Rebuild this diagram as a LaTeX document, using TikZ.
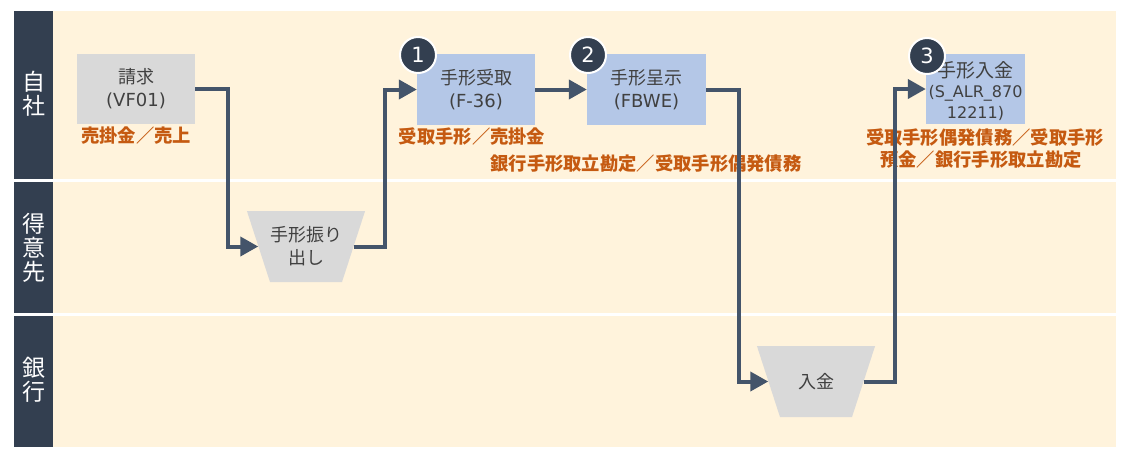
\documentclass[tikz,border=0pt]{standalone}
\usepackage{fontspec}
\setmainfont{Noto Sans CJK JP}
\newfontfamily\lat{DejaVu Sans}
\usetikzlibrary{arrows.meta,shapes.geometric}
\definecolor{navy}{HTML}{333F50}
\definecolor{lanebg}{HTML}{FFF3DC}
\definecolor{grayfill}{HTML}{D9D9D9}
\definecolor{bluefill}{HTML}{B4C7E7}
\definecolor{conncol}{HTML}{44546A}
\definecolor{orangetxt}{HTML}{C55A11}
\definecolor{boxtxt}{HTML}{404040}
\tikzset{
  lanelabel/.style={text=white, align=center, font=\fontsize{23}{24}\selectfont, inner sep=0pt},
  procbox/.style={rectangle, inner sep=0pt, align=center, text=boxtxt, font=\fontsize{18}{23}\selectfont},
  graybox/.style={procbox, fill=grayfill},
  bluebox/.style={procbox, fill=bluefill},
  trap/.style={trapezium, trapezium left angle=108, trapezium right angle=108,
    minimum height=0pt, minimum width=0pt, text height=0pt, text depth=0pt, text width=0pt,
    inner xsep=36pt, inner ysep=35.5pt, fill=grayfill},
  traptext/.style={procbox},
  numcirc/.style={circle, fill=navy, draw=white, line width=2pt, minimum size=36pt, inner sep=0pt,
    text=white, font=\lat\fontsize{21}{21}\selectfont},
  acct/.style={text=orangetxt, font=\fontsize{18.3}{22}\selectfont\bfseries, inner sep=0pt, align=center},
  conn/.style={draw=conncol, line width=4pt, -{Triangle[length=18pt,width=19pt]}}
}
\begin{document}
\begin{tikzpicture}[x=1pt,y=-1pt]
\useasboundingbox[fill=white] (0,0) rectangle (1126,456);
% lanes
\fill[lanebg] (53,11) rectangle (1116,179);
\fill[lanebg] (53,182) rectangle (1116,313);
\fill[lanebg] (53,316) rectangle (1116,447);
\fill[navy] (14,11) rectangle (53,179);
\fill[navy] (14,182) rectangle (53,313);
\fill[navy] (14,316) rectangle (53,447);
\node[lanelabel] (l1) at (33.5,94) {自\\社};
\node[lanelabel] (l2) at (33.5,248) {得\\意\\先};
\node[lanelabel] (l3) at (33.5,380) {銀\\行};
% process nodes
\node[graybox, minimum width=118pt, minimum height=70pt] (seikyu) at (136,89) {請求\\{\lat (VF01)}};
\node[trap] (furi) at (306,246.5) {};
\node[traptext] (furit) at (furi.center) {手形振り\\出し};
\node[bluebox, minimum width=118pt, minimum height=71pt] (uketori) at (476,89.5) {手形受取\\{\lat (F-36)}};
\node[bluebox, minimum width=119pt, minimum height=71pt] (teiji) at (646.5,89.5) {手形呈示\\{\lat (FBWE)}};
\node[trap] (nyukin) at (816,381.5) {};
\node[traptext] (nyukint) at (nyukin.center) {入金};
\node[bluebox, minimum width=99pt, minimum height=70pt, font=\fontsize{19}{20.5}\selectfont] (tnyukin) at (975.5,89) {};
\node[procbox, font=\fontsize{19}{20.5}\selectfont] (tnyukint) at (975.5,91) {手形入金\\{\lat\fontsize{16}{20.5}\selectfont (S\_ALR\_870}\\{\lat\fontsize{16}{20.5}\selectfont 12211)}};
% number circles
\node[numcirc] (n1) at (418,55) {1};
\node[numcirc] (n2) at (588,55) {2};
\node[numcirc] (n3) at (927,56) {3};
% account labels
\node[acct] (a1) at (136,136) {売掛金／売上};
\node[acct] (a2) at (472,137) {受取手形／売掛金};
\node[acct] (a3) at (646,164) {銀行手形取立勘定／受取手形偶発債務};
\node[acct] (a4) at (985,137.5) {受取手形偶発債務／受取手形};
\node[acct] (a5) at (981,160) {預金／銀行手形取立勘定};
% connectors
\draw[conn] (seikyu.east) -- ++(33,0) |- (furi.west);
\draw[conn] (furi.east) -- ++(31,0) |- (uketori.west);
\draw[conn] (uketori.east) -- (teiji.west);
\draw[conn] (teiji.east) -- ++(33,0) |- (nyukin.west);
\draw[conn] (nyukin.east) -- ++(31,0) |- (tnyukin.west);
\end{tikzpicture}
\end{document}
